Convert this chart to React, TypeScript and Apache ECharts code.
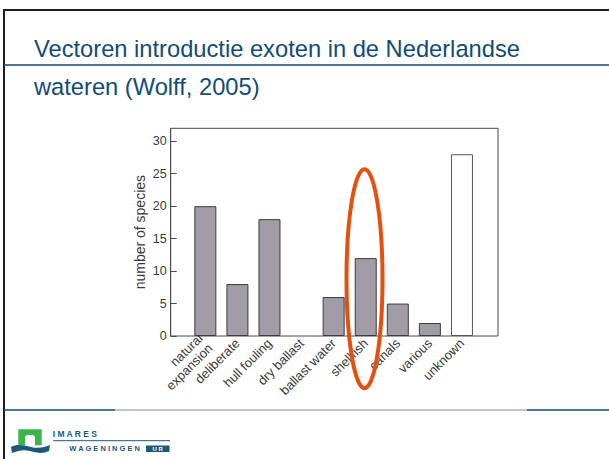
import React, { useEffect, useRef } from "react";
import * as echarts from "echarts";

const titleLines = ["Vectoren introductie exoten in de Nederlandse", "wateren (Wolff, 2005)"];
const categories = [
  "natural\nexpansion",
  "deliberate",
  "hull fouling",
  "dry ballast",
  "ballast water",
  "shellfish",
  "canals",
  "various",
  "unknown",
];
const speciesCounts = [20, 8, 18, 0, 6, 12, 5, 2, 28];
const yAxisName = "number of species";
const yMin = 0;
const yMax = 32;
const yInterval = 5;
const openBarCategory = "unknown";

const FONT = "'Liberation Sans', Arial, Helvetica, sans-serif";
const TITLE_BLUE = "#134c74";
const LOGO_BLUE = "#1b587a";

echarts.graphic.registerShape(
  "imaresWave",
  echarts.graphic.extendPath(
    "M0,2 C6,-1 12,0 20,2 C28,4 34,2 39,0 L38,6 C32,9 26,8 19,6 C12,4 6,6 1,8 Z",
    {}
  )
);

export default function App() {
  const ref = useRef<HTMLDivElement>(null);

  useEffect(() => {
    if (!ref.current) return;
    const chart = echarts.init(ref.current, undefined, { renderer: "svg" });

    const barData = speciesCounts.map((v, i) => {
      if (categories[i] === openBarCategory) {
        return { value: v, itemStyle: { color: "#ffffff", borderColor: "#555555" } };
      }
      if (v === 0) {
        return { value: v, itemStyle: { borderWidth: 0, color: "transparent" } };
      }
      return v;
    });

    chart.setOption({
      animation: false,
      backgroundColor: "#ffffff",
      title: [
        {
          text: titleLines[0],
          left: 34,
          top: 36.5,
          padding: 0,
          textStyle: { fontFamily: FONT, fontSize: 23.7, fontWeight: "normal", color: TITLE_BLUE },
        },
        {
          text: titleLines[1],
          left: 34,
          top: 74.5,
          padding: 0,
          textStyle: { fontFamily: FONT, fontSize: 23.7, fontWeight: "normal", color: TITLE_BLUE },
        },
      ],
      grid: [
        {
          left: 170.7,
          top: 128.3,
          width: 327.3,
          height: 207.7,
          show: true,
          borderColor: "#4a4a4a",
          borderWidth: 1,
          backgroundColor: "transparent",
        },
        {
          left: 189.3,
          top: 128.3,
          width: 288.7,
          height: 207.7,
        },
      ],
      xAxis: [
        { type: "value", gridIndex: 0, show: false, min: 0, max: 1 },
        {
          type: "category",
          gridIndex: 1,
          data: categories,
          boundaryGap: true,
          axisLine: { show: false },
          axisTick: { show: false },
          axisLabel: {
            rotate: 45,
            margin: 5,
            interval: 0,
            fontFamily: FONT,
            fontSize: 13,
            color: "#3a3a3a",
            lineHeight: 14,
          },
        },
      ],
      yAxis: [
        {
          type: "value",
          gridIndex: 0,
          min: yMin,
          max: yMax,
          interval: yInterval,
          name: yAxisName,
          nameLocation: "middle",
          nameGap: 24,
          nameMoveOverlap: false,
          nameTextStyle: { fontFamily: FONT, fontSize: 14, color: "#3a3a3a" },
          axisLine: { show: true, lineStyle: { color: "#4a4a4a", width: 1 } },
          axisTick: { show: true, inside: true, length: 6, lineStyle: { color: "#4a4a4a" } },
          axisLabel: {
            showMaxLabel: false,
            margin: 4,
            fontFamily: FONT,
            fontSize: 12.5,
            color: "#3a3a3a",
          },
          splitLine: { show: false },
        },
        { type: "value", gridIndex: 1, min: yMin, max: yMax, show: false },
      ],
      series: [
        {
          type: "bar",
          xAxisIndex: 1,
          yAxisIndex: 1,
          data: barData,
          barWidth: 22,
          itemStyle: { color: "#a19ca5", borderColor: "#3c3c3c", borderWidth: 1 },
        },
      ],
      graphic: [
        // slide frame
        { type: "line", shape: { x1: 3, y1: 10, x2: 609, y2: 10 }, style: { stroke: "#1e1e1e", lineWidth: 2 } },
        { type: "line", shape: { x1: 4, y1: 9, x2: 4, y2: 459 }, style: { stroke: "#1e1e1e", lineWidth: 2 } },
        { type: "line", shape: { x1: 4, y1: 65, x2: 609, y2: 65 }, style: { stroke: "#0f4a70", lineWidth: 1.5 } },
        { type: "line", shape: { x1: 4, y1: 410, x2: 115, y2: 410 }, style: { stroke: "#0f4a70", lineWidth: 1.5 } },
        { type: "line", shape: { x1: 115, y1: 410, x2: 527, y2: 410 }, style: { stroke: "#a3b2bc", lineWidth: 1.5 } },
        { type: "line", shape: { x1: 527, y1: 410, x2: 609, y2: 410 }, style: { stroke: "#0f4a70", lineWidth: 1.5 } },
        // highlight ellipse
        {
          type: "ellipse",
          shape: { cx: 364.5, cy: 278.7, rx: 18, ry: 109.5 },
          style: { fill: "none", stroke: "#e6500f", lineWidth: 4 },
          z: 100,
        },
        // logo
        { type: "rect", shape: { x: 18.3, y: 429.3, width: 23.4, height: 16 }, style: { fill: "#3bb54a" } },
        { type: "rect", shape: { x: 25, y: 435, width: 10, height: 11, r: [3, 3, 0, 0] }, style: { fill: "#ffffff" } },
        { type: "imaresWave", x: 11, y: 445, style: { fill: LOGO_BLUE } },
        {
          type: "text",
          x: 52.7,
          y: 434.3,
          style: { text: "I M A R E S", fontFamily: FONT, fontSize: 8.5, fontWeight: "bold", fill: LOGO_BLUE, verticalAlign: "middle" },
        },
        { type: "line", shape: { x1: 53.3, y1: 440.7, x2: 170, y2: 440.7 }, style: { stroke: LOGO_BLUE, lineWidth: 1 } },
        {
          type: "text",
          x: 69.3,
          y: 448.5,
          style: { text: "W A G E N I N G E N", fontFamily: FONT, fontSize: 7.5, fontWeight: "bold", fill: LOGO_BLUE, verticalAlign: "middle" },
        },
        { type: "rect", shape: { x: 146, y: 445.5, width: 23.5, height: 6.5 }, style: { fill: LOGO_BLUE } },
        {
          type: "text",
          x: 157.7,
          y: 448.8,
          style: { text: "U R", fontFamily: FONT, fontSize: 6, fontWeight: "bold", fill: "#ffffff", align: "center", verticalAlign: "middle" },
        },
      ],
    });

    return () => chart.dispose();
  }, []);

  return (
    <div
      ref={ref}
      style={{ position: "fixed", left: 0, top: 0, width: 609, height: 459, background: "#ffffff" }}
    />
  );
}
